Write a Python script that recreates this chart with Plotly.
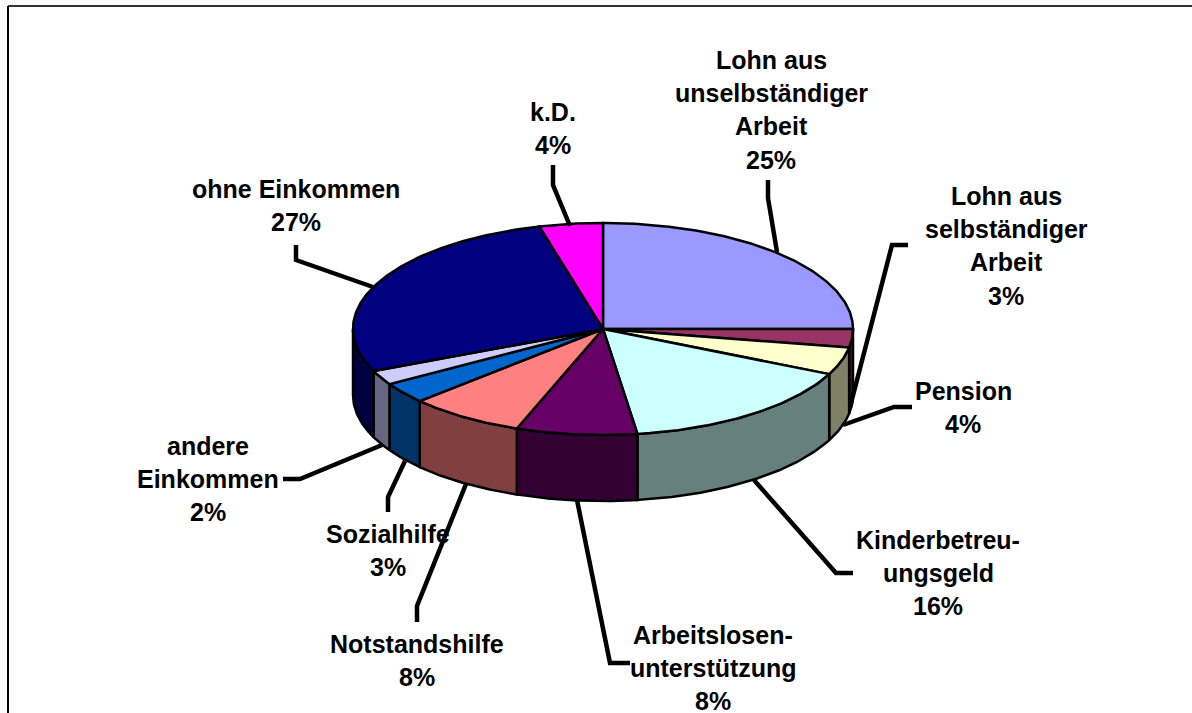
import numpy as np
import plotly.graph_objects as go

categories = ["Lohn aus unselbständiger Arbeit", "Lohn aus selbständiger Arbeit", "Pension",
              "Kinderbetreuungsgeld", "Arbeitslosenunterstützung", "Notstandshilfe",
              "Sozialhilfe", "andere Einkommen", "ohne Einkommen", "k.D."]
values = [25.0, 2.8, 4.2, 15.8, 7.8, 7.5, 3.2, 2.2, 27.4, 4.1]
top_colors = ["#9999FF", "#993366", "#FFFFCC", "#CCFFFF", "#660066",
              "#FF8080", "#0066CC", "#CCCCFF", "#000080", "#FF00FF"]
side_colors = ["#4D4D80", "#4D1A33", "#808066", "#668080", "#330033",
               "#804040", "#003366", "#666680", "#000040", "#800080"]
label_lines = [
    ["Lohn aus", "unselbständiger", "Arbeit"],
    ["Lohn aus", "selbständiger", "Arbeit"],
    ["Pension"],
    ["Kinderbetreu-", "ungsgeld"],
    ["Arbeitslosen-", "unterstützung"],
    ["Notstandshilfe"],
    ["Sozialhilfe"],
    ["andere", "Einkommen"],
    ["ohne Einkommen"],
    ["k.D."],
]
label_x = [771, 1006, 963, 938, 713, 417, 388, 208, 296, 553]
label_y = [60, 196, 391, 540, 635, 644, 534, 446, 189, 112]
label_step = 33.2
leaders_x = [[777, 768, 768], [850, 892, 908], [843, 894, 912], [754, 836, 853], [577, 610, 630],
             [466, 417, 417], [405, 388, 388], [382, 300, 283], [373, 296, 296], [570, 553, 553]]
leaders_y = [[252, 198, 180], [407, 245, 245], [425, 407, 407], [480, 573, 573], [500, 663, 663],
             [484, 606, 622], [461, 497, 512], [445, 479, 479], [287, 260, 245], [226, 185, 165]]

CX, CY, RX, RY, DEPTH = 603, 329, 250, 106, 66
FONT = "Liberation Sans, Arial, sans-serif"

fractions = np.array(values) / sum(values)
edges = np.concatenate([[0], np.cumsum(fractions)]) * 2 * np.pi


def arc(a, b, dy=0.0):
    t = np.linspace(a, b, max(2, int(abs(b - a) * 80)))
    return CX + RX * np.sin(t), CY - RY * np.cos(t) + dy


fig = go.Figure()


def poly(xs, ys, fill):
    fig.add_trace(go.Scatter(x=xs, y=ys, mode="lines", fill="toself", fillcolor=fill,
                             line=dict(color="black", width=2.5, shape="linear"),
                             hoverinfo="skip", showlegend=False))


# front wall of the disc
for i in range(len(values)):
    a, b = max(edges[i], np.pi / 2), min(edges[i + 1], 3 * np.pi / 2)
    if b <= a:
        continue
    x1, y1 = arc(a, b)
    x2, y2 = arc(b, a, DEPTH)
    poly(np.r_[x1, x2, x1[0]], np.r_[y1, y2, y1[0]], side_colors[i])

# top face
for i in range(len(values)):
    x1, y1 = arc(edges[i], edges[i + 1])
    poly(np.r_[CX, x1, CX], np.r_[CY, y1, CY], top_colors[i])

# leader lines
for lx, ly in zip(leaders_x, leaders_y):
    fig.add_trace(go.Scatter(x=lx, y=ly, mode="lines",
                             line=dict(color="black", width=4.5), hoverinfo="skip", showlegend=False))

# labels
annotations = []
for lines, v, x, y in zip(label_lines, values, label_x, label_y):
    for k, txt in enumerate(lines + [f"{round(v)}%"]):
        annotations.append(dict(x=x, y=y + k * label_step, xref="x", yref="y", text=f"<b>{txt}</b>",
                                showarrow=False, xanchor="center", yanchor="middle",
                                font=dict(family=FONT, size=25, color="black")))

# frame of the page (top and left only)
shapes = [
    dict(type="line", xref="paper", yref="paper", x0=8 / 1192, x1=1, y0=1 - 6 / 713, y1=1 - 6 / 713,
         line=dict(color="#333333", width=2)),
    dict(type="line", xref="paper", yref="paper", x0=8 / 1192, x1=8 / 1192, y0=0, y1=1 - 6 / 713,
         line=dict(color="black", width=2)),
]

fig.update_layout(
    width=1192, height=713, autosize=False,
    margin=dict(l=0, r=0, t=0, b=0),
    paper_bgcolor="white", plot_bgcolor="white",
    xaxis=dict(range=[0, 1192], visible=False, fixedrange=True),
    yaxis=dict(range=[713, 0], visible=False, fixedrange=True),
    annotations=annotations, shapes=shapes, showlegend=False,
)
fig.write_html("out.html", config=dict(displayModeBar=False),
               post_script="document.body.style.margin='0';document.documentElement.style.overflow='hidden';")
